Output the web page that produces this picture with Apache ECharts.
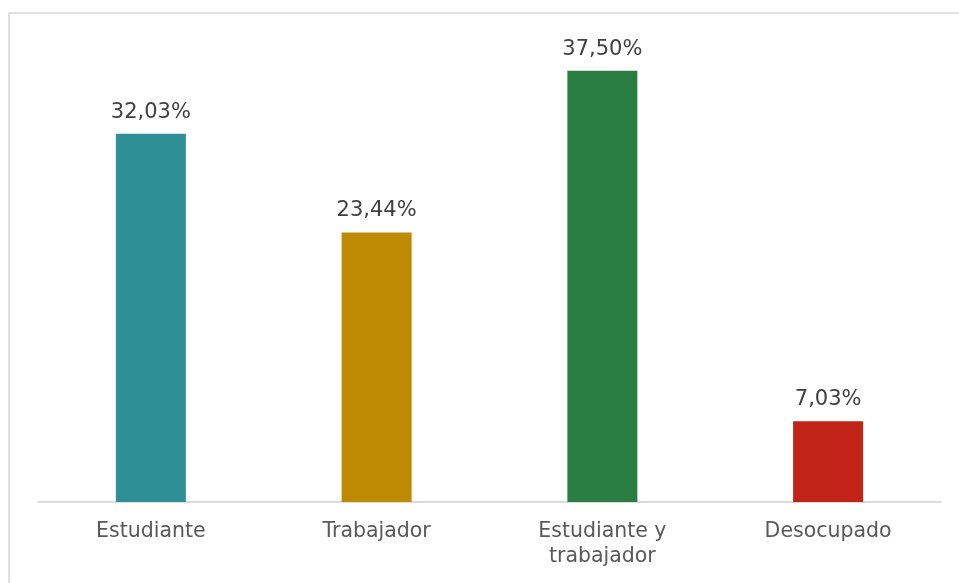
<!DOCTYPE html>
<html>
<head>
<meta charset="utf-8">
<script src="https://cdn.jsdelivr.net/npm/echarts@6/dist/echarts.min.js"></script>
<style>
  html, body { margin: 0; padding: 0; background: #ffffff; }
  #chart { width: 959px; height: 583px; }
</style>
</head>
<body>
<div id="chart"></div>
<script>
// Occupation categories and their shares (%)
const categories = ['Estudiante', 'Trabajador', 'Estudiante y\ntrabajador', 'Desocupado'];
const shares = [32.03, 23.44, 37.50, 7.03];
const barColors = ['#2E9096', '#BE8A02', '#2A7D42', '#C22317'];

const chart = echarts.init(document.getElementById('chart'));

const fontFamily = 'DejaVu Sans, Arial, sans-serif';

chart.setOption({
  animation: false,
  backgroundColor: '#ffffff',
  grid: { left: 38, right: 18, top: 42, bottom: 81, containLabel: false },
  xAxis: {
    type: 'category',
    data: categories,
    axisLine: { show: true, lineStyle: { color: '#cfcfcf', width: 1.5 } },
    axisTick: { show: false },
    axisLabel: {
      color: '#595959',
      fontFamily: fontFamily,
      fontSize: 20.5,
      lineHeight: 25,
      margin: 17,
      interval: 0
    }
  },
  yAxis: {
    type: 'value',
    min: 0,
    max: 40,
    show: false,
    splitLine: { show: false }
  },
  series: [{
    type: 'bar',
    barWidth: 70,
    data: shares.map((v, i) => ({ value: v, itemStyle: { color: barColors[i] } })),
    label: {
      show: true,
      position: 'top',
      distance: 11,
      color: '#404040',
      fontFamily: fontFamily,
      fontSize: 21,
      formatter: p => p.value.toFixed(2).replace('.', ',') + '%'
    }
  }],
  graphic: [
    {
      type: 'polyline',
      shape: { points: [[9, 583], [9, 13], [959, 13]] },
      style: { stroke: '#d6d6d6', lineWidth: 1.5, fill: null }
    }
  ]
});
</script>
</body>
</html>
